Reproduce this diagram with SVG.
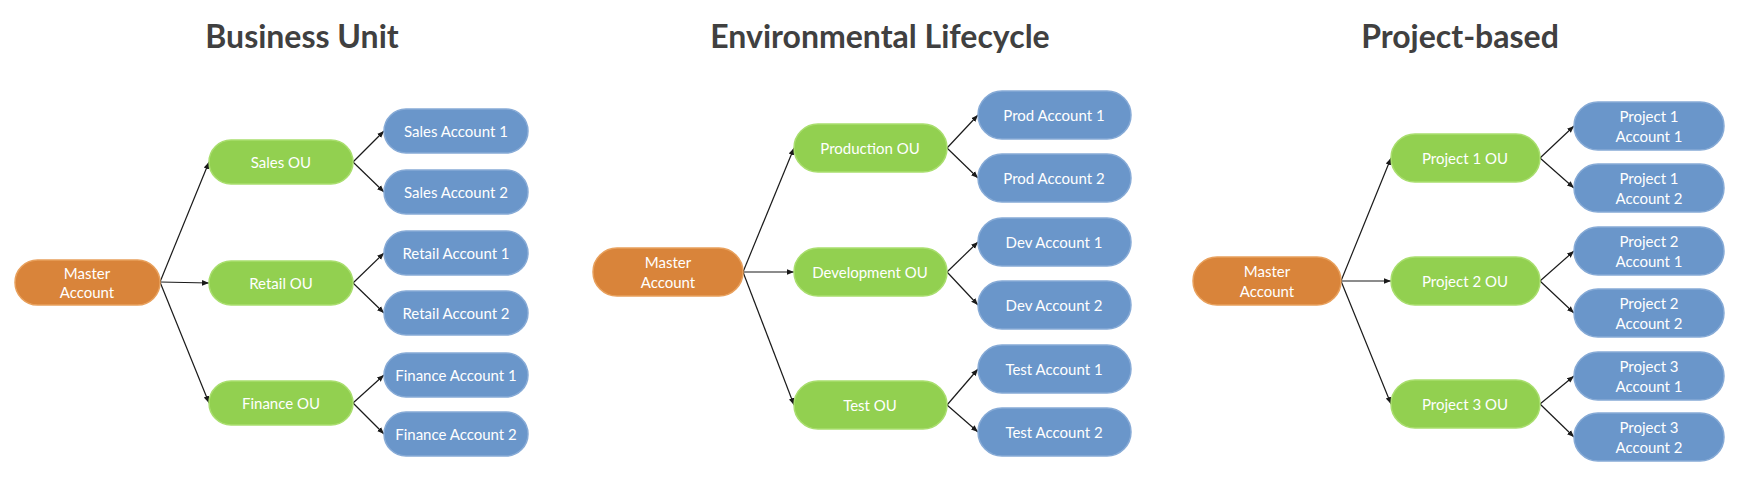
<svg xmlns="http://www.w3.org/2000/svg" width="1752" height="486" viewBox="0 0 1752 486">
<defs>
<marker id="ah" viewBox="0 0 10 10" refX="10" refY="5" markerWidth="7" markerHeight="7" markerUnits="userSpaceOnUse" orient="auto">
<path d="M0,1 L10,5 L0,9 z" fill="#1a1a1a"/>
</marker>
</defs>
<style>
.title{font-family:Lato,"Open Sans",sans-serif;font-weight:700;font-size:32px;fill:#404040;text-anchor:middle}
.lbl{font-family:Lato,"Open Sans",sans-serif;font-size:15px;fill:#ffffff;text-anchor:middle;dominant-baseline:central}
.m{fill:#D9843A;stroke:#E8A05C;stroke-width:1.5}
.o{fill:#92D050;stroke:#A9DE6E;stroke-width:1.5}
.a{fill:#6A96CA;stroke:#86AAD6;stroke-width:1.5}
.c line{stroke:#1a1a1a;stroke-width:1.2;marker-end:url(#ah)}
</style>
<rect width="1752" height="486" fill="#ffffff"/>
<text class="title" x="302" y="48">Business Unit</text>
<text class="title" x="880" y="48">Environmental Lifecycle</text>
<text class="title" x="1460" y="48">Project-based</text>

<g id="connectors" class="c">
<line x1="160" y1="282" x2="209" y2="162"/>
<line x1="160" y1="282" x2="209" y2="283"/>
<line x1="160" y1="282" x2="209" y2="403"/>
<line x1="353" y1="162" x2="384" y2="131"/>
<line x1="353" y1="162" x2="384" y2="192"/>
<line x1="353" y1="283" x2="384" y2="253"/>
<line x1="353" y1="283" x2="384" y2="313"/>
<line x1="353" y1="403" x2="384" y2="375"/>
<line x1="353" y1="403" x2="384" y2="434"/>

<line x1="743" y1="272" x2="794" y2="148"/>
<line x1="743" y1="272" x2="794" y2="272"/>
<line x1="743" y1="272" x2="794" y2="405"/>
<line x1="947" y1="148" x2="978" y2="115"/>
<line x1="947" y1="148" x2="978" y2="178"/>
<line x1="947" y1="272" x2="978" y2="242"/>
<line x1="947" y1="272" x2="978" y2="305"/>
<line x1="947" y1="405" x2="978" y2="369"/>
<line x1="947" y1="405" x2="978" y2="432"/>

<line x1="1341" y1="281" x2="1391" y2="158"/>
<line x1="1341" y1="281" x2="1391" y2="281"/>
<line x1="1341" y1="281" x2="1391" y2="404"/>
<line x1="1540" y1="158" x2="1574" y2="126"/>
<line x1="1540" y1="158" x2="1574" y2="188"/>
<line x1="1540" y1="281" x2="1574" y2="251"/>
<line x1="1540" y1="281" x2="1574" y2="313"/>
<line x1="1540" y1="404" x2="1574" y2="376"/>
<line x1="1540" y1="404" x2="1574" y2="437"/>
</g>

<g id="bu-master"><rect class="m" x="15" y="260" width="145" height="45" rx="22.5"/><text class="lbl" x="87" y="273">Master</text><text class="lbl" x="87" y="292">Account</text></g>
<g id="bu-sales-ou"><rect class="o" x="209" y="140" width="144" height="44" rx="22"/><text class="lbl" x="281" y="162">Sales OU</text></g>
<g id="bu-retail-ou"><rect class="o" x="209" y="261" width="144" height="44" rx="22"/><text class="lbl" x="281" y="283">Retail OU</text></g>
<g id="bu-finance-ou"><rect class="o" x="209" y="381" width="144" height="44" rx="22"/><text class="lbl" x="281" y="403">Finance OU</text></g>
<g id="bu-sa1"><rect class="a" x="384" y="109" width="144" height="44" rx="22"/><text class="lbl" x="456" y="131">Sales Account 1</text></g>
<g id="bu-sa2"><rect class="a" x="384" y="170" width="144" height="44" rx="22"/><text class="lbl" x="456" y="192">Sales Account 2</text></g>
<g id="bu-ra1"><rect class="a" x="384" y="231" width="144" height="44" rx="22"/><text class="lbl" x="456" y="253">Retail Account 1</text></g>
<g id="bu-ra2"><rect class="a" x="384" y="291" width="144" height="44" rx="22"/><text class="lbl" x="456" y="313">Retail Account 2</text></g>
<g id="bu-fa1"><rect class="a" x="384" y="353" width="144" height="44" rx="22"/><text class="lbl" x="456" y="375">Finance Account 1</text></g>
<g id="bu-fa2"><rect class="a" x="384" y="412" width="144" height="44" rx="22"/><text class="lbl" x="456" y="434">Finance Account 2</text></g>

<g id="el-master"><rect class="m" x="593" y="248" width="150" height="48" rx="24"/><text class="lbl" x="668" y="262">Master</text><text class="lbl" x="668" y="282">Account</text></g>
<g id="el-prod-ou"><rect class="o" x="794" y="124" width="153" height="48" rx="24"/><text class="lbl" x="870" y="148">Production OU</text></g>
<g id="el-dev-ou"><rect class="o" x="794" y="248" width="153" height="48" rx="24"/><text class="lbl" x="870" y="272">Development OU</text></g>
<g id="el-test-ou"><rect class="o" x="794" y="381" width="153" height="48" rx="24"/><text class="lbl" x="870" y="405">Test OU</text></g>
<g id="el-pa1"><rect class="a" x="978" y="91" width="153" height="48" rx="24"/><text class="lbl" x="1054" y="115">Prod Account 1</text></g>
<g id="el-pa2"><rect class="a" x="978" y="154" width="153" height="48" rx="24"/><text class="lbl" x="1054" y="178">Prod Account 2</text></g>
<g id="el-da1"><rect class="a" x="978" y="218" width="153" height="48" rx="24"/><text class="lbl" x="1054" y="242">Dev Account 1</text></g>
<g id="el-da2"><rect class="a" x="978" y="281" width="153" height="48" rx="24"/><text class="lbl" x="1054" y="305">Dev Account 2</text></g>
<g id="el-ta1"><rect class="a" x="978" y="345" width="153" height="48" rx="24"/><text class="lbl" x="1054" y="369">Test Account 1</text></g>
<g id="el-ta2"><rect class="a" x="978" y="408" width="153" height="48" rx="24"/><text class="lbl" x="1054" y="432">Test Account 2</text></g>

<g id="pb-master"><rect class="m" x="1193" y="257" width="148" height="48" rx="24"/><text class="lbl" x="1267" y="271">Master</text><text class="lbl" x="1267" y="291">Account</text></g>
<g id="pb-p1-ou"><rect class="o" x="1391" y="134" width="149" height="48" rx="24"/><text class="lbl" x="1465" y="158">Project 1 OU</text></g>
<g id="pb-p2-ou"><rect class="o" x="1391" y="257" width="149" height="48" rx="24"/><text class="lbl" x="1465" y="281">Project 2 OU</text></g>
<g id="pb-p3-ou"><rect class="o" x="1391" y="380" width="149" height="48" rx="24"/><text class="lbl" x="1465" y="404">Project 3 OU</text></g>
<g id="pb-p1a1"><rect class="a" x="1574" y="102" width="150" height="48" rx="24"/><text class="lbl" x="1649" y="116">Project 1</text><text class="lbl" x="1649" y="136">Account 1</text></g>
<g id="pb-p1a2"><rect class="a" x="1574" y="164" width="150" height="48" rx="24"/><text class="lbl" x="1649" y="178">Project 1</text><text class="lbl" x="1649" y="198">Account 2</text></g>
<g id="pb-p2a1"><rect class="a" x="1574" y="227" width="150" height="48" rx="24"/><text class="lbl" x="1649" y="241">Project 2</text><text class="lbl" x="1649" y="261">Account 1</text></g>
<g id="pb-p2a2"><rect class="a" x="1574" y="289" width="150" height="48" rx="24"/><text class="lbl" x="1649" y="303">Project 2</text><text class="lbl" x="1649" y="323">Account 2</text></g>
<g id="pb-p3a1"><rect class="a" x="1574" y="352" width="150" height="48" rx="24"/><text class="lbl" x="1649" y="366">Project 3</text><text class="lbl" x="1649" y="386">Account 1</text></g>
<g id="pb-p3a2"><rect class="a" x="1574" y="413" width="150" height="48" rx="24"/><text class="lbl" x="1649" y="427">Project 3</text><text class="lbl" x="1649" y="447">Account 2</text></g>
</svg>
